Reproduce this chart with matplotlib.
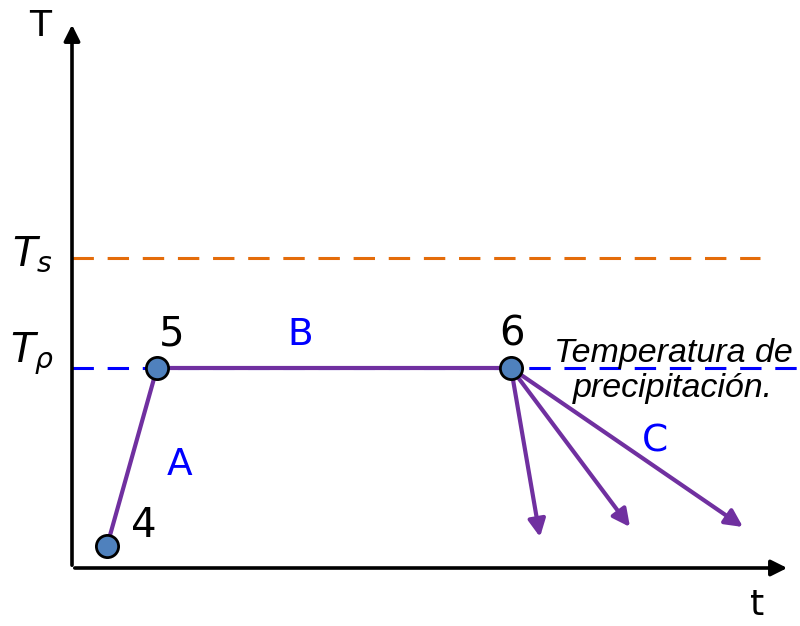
import matplotlib.pyplot as plt

# puntos del proceso (t, T) en unidades arbitrarias
t_pts = [35, 85, 439]          # 4, 5, 6
T_pts = [22, 200, 200]
pt_labels = ['4', '5', '6']

# enfriamientos desde el punto 6 (C)
cool_t = [468, 558, 671]
cool_T = [31, 41, 41]

T_s = 310
T_p = 200

purple = '#7030A0'
blue = '#0000FF'
orange = '#E46C0A'

fig = plt.figure(figsize=(8, 6.26), dpi=100)
ax = fig.add_axes([0, 0, 1, 1])
ax.set_xlim(-72, 728)
ax.set_ylim(-58, 568)
ax.axis('off')

# ejes con flechas
ax.annotate('', xy=(0, 546), xytext=(0, 0),
            arrowprops=dict(arrowstyle='-|>', lw=2.6, color='black', mutation_scale=24))
ax.annotate('', xy=(718, 0), xytext=(0, 0),
            arrowprops=dict(arrowstyle='-|>', lw=2.6, color='black', mutation_scale=24))
ax.text(-32, 542, 'T', fontsize=26, ha='center', va='center', family='DejaVu Sans')
ax.text(685, -37, 't', fontsize=26, ha='center', va='center', family='DejaVu Sans')

# temperaturas de referencia
ax.plot([0, 688], [T_s, T_s], ls=(0, (7, 4.5)), lw=2.2, color=orange)
ax.plot([0, 728], [T_p, T_p], ls=(0, (7, 4.5)), lw=2.2, color=blue)
ax.text(-40, T_s + 4, '$T_s$', fontsize=29, ha='center', va='center')
ax.text(-40, T_p + 14, r'$T_\rho$', fontsize=29, ha='center', va='center')

# tramos A y B
ax.plot(t_pts, T_pts, color=purple, lw=3, solid_capstyle='round', zorder=3)

# tramos C
for te, Te in zip(cool_t, cool_T):
    ax.annotate('', xy=(te, Te), xytext=(t_pts[2], T_pts[2]),
                arrowprops=dict(arrowstyle='-|>', lw=3, color=purple,
                                mutation_scale=26, shrinkA=0, shrinkB=0), zorder=3)

ax.plot(t_pts, T_pts, 'o', ms=16, mfc='#4F81BD', mec='black', mew=2, zorder=5)

# etiquetas de puntos
ax.text(t_pts[0] + 37, T_pts[0] + 20, pt_labels[0], fontsize=29, ha='center', va='center')
ax.text(t_pts[1] + 15, T_pts[1] + 34, pt_labels[1], fontsize=29, ha='center', va='center')
ax.text(t_pts[2] + 1, T_pts[2] + 34, pt_labels[2], fontsize=29, ha='center', va='center')

ax.text(228, 233, 'B', fontsize=27, color=blue, ha='center', va='center')
ax.text(108, 103, 'A', fontsize=27, color=blue, ha='center', va='center')
ax.text(583, 126, 'C', fontsize=27, color=blue, ha='center', va='center')

ax.text(601, 197, 'Temperatura de\nprecipitación.', fontsize=24.5, style='italic',
        ha='center', va='center', linespacing=1.2, family='Liberation Sans')

fig.savefig('out.png', dpi=100)
